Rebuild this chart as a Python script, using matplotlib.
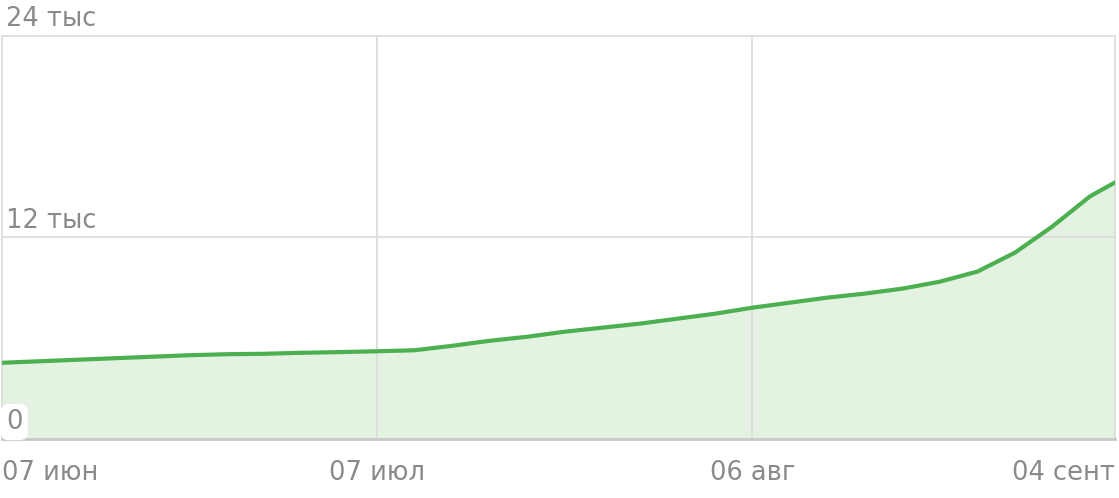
import matplotlib
matplotlib.use("Agg")
from matplotlib import pyplot as plt
import matplotlib.transforms as mtransforms

# day offsets from 07 Jun and total count
days = [0, 3, 6, 9, 12, 15, 18, 21, 24, 27, 30, 33, 36, 39, 42, 45, 48, 51,
        54, 57, 60, 63, 66, 69, 72, 75, 78, 81, 84, 87, 89]
values = [4540, 4630, 4720, 4810, 4900, 4990, 5050, 5075, 5135, 5175, 5225,
          5285, 5550, 5850, 6090, 6390, 6630, 6870, 7165, 7460, 7820, 8120,
          8420, 8660, 8955, 9370, 9970, 11100, 12660, 14450, 15280]

xtick_pos = [0, 30, 60, 89]
xtick_labels = ["07 июн", "07 июл", "06 авг", "04 сент"]
ytick_pos = [0, 12000, 24000]
ytick_labels = ["0", "12 тыс", "24 тыс"]

line_col = "#4caf50"
fill_col = "#e4f2e2"
grid_col = "#dddddd"
text_col = "#8a8a8a"

plt.rcParams['font.family'] = ['DejaVu Sans']

fig = plt.figure(figsize=(11.19, 4.98), dpi=100)
ax = fig.add_axes([2/1119, 59/498, 1113/1119, 403/498])
ax.set_xlim(0, 89)
ax.set_ylim(0, 24000)

ax.fill_between(days, values, 0, color=fill_col, zorder=1)
ax.plot(days, values, color=line_col, lw=3, zorder=3, solid_capstyle='round')

for x in xtick_pos[1:-1]:
    ax.axvline(x, color=grid_col, lw=1.3, zorder=2)
ax.axhline(12000, color=grid_col, lw=1.3, zorder=2)

for s in ['top', 'left', 'right']:
    ax.spines[s].set_color(grid_col)
    ax.spines[s].set_linewidth(1.3)
ax.spines['bottom'].set_color("#c8c8c8")
ax.spines['bottom'].set_linewidth(2)
ax.set_xticks([])
ax.set_yticks([])

trans = mtransforms.blended_transform_factory(ax.transAxes, ax.transData)
for v, lab in zip(ytick_pos, ytick_labels):
    box = None
    if v == 0:
        box = dict(boxstyle="round,pad=0.2,rounding_size=0.3", fc="white", ec="none")
    ax.annotate(lab, xy=(0, v), xycoords=trans, xytext=(4, 4),
                textcoords='offset pixels', ha='left', va='bottom',
                fontsize=18.5, color=text_col, bbox=box, zorder=5,
                annotation_clip=False)

transx = mtransforms.blended_transform_factory(ax.transData, ax.transAxes)
for i, (x, lab) in enumerate(zip(xtick_pos, xtick_labels)):
    ha = 'center'
    if i == 0:
        ha = 'left'
    elif i == len(xtick_pos) - 1:
        ha = 'right'
    ax.annotate(lab, xy=(x, 0), xycoords=transx, xytext=(0, -21),
                textcoords='offset pixels', ha=ha, va='top',
                fontsize=18.5, color=text_col, annotation_clip=False)

fig.savefig("out.png", dpi=100)
